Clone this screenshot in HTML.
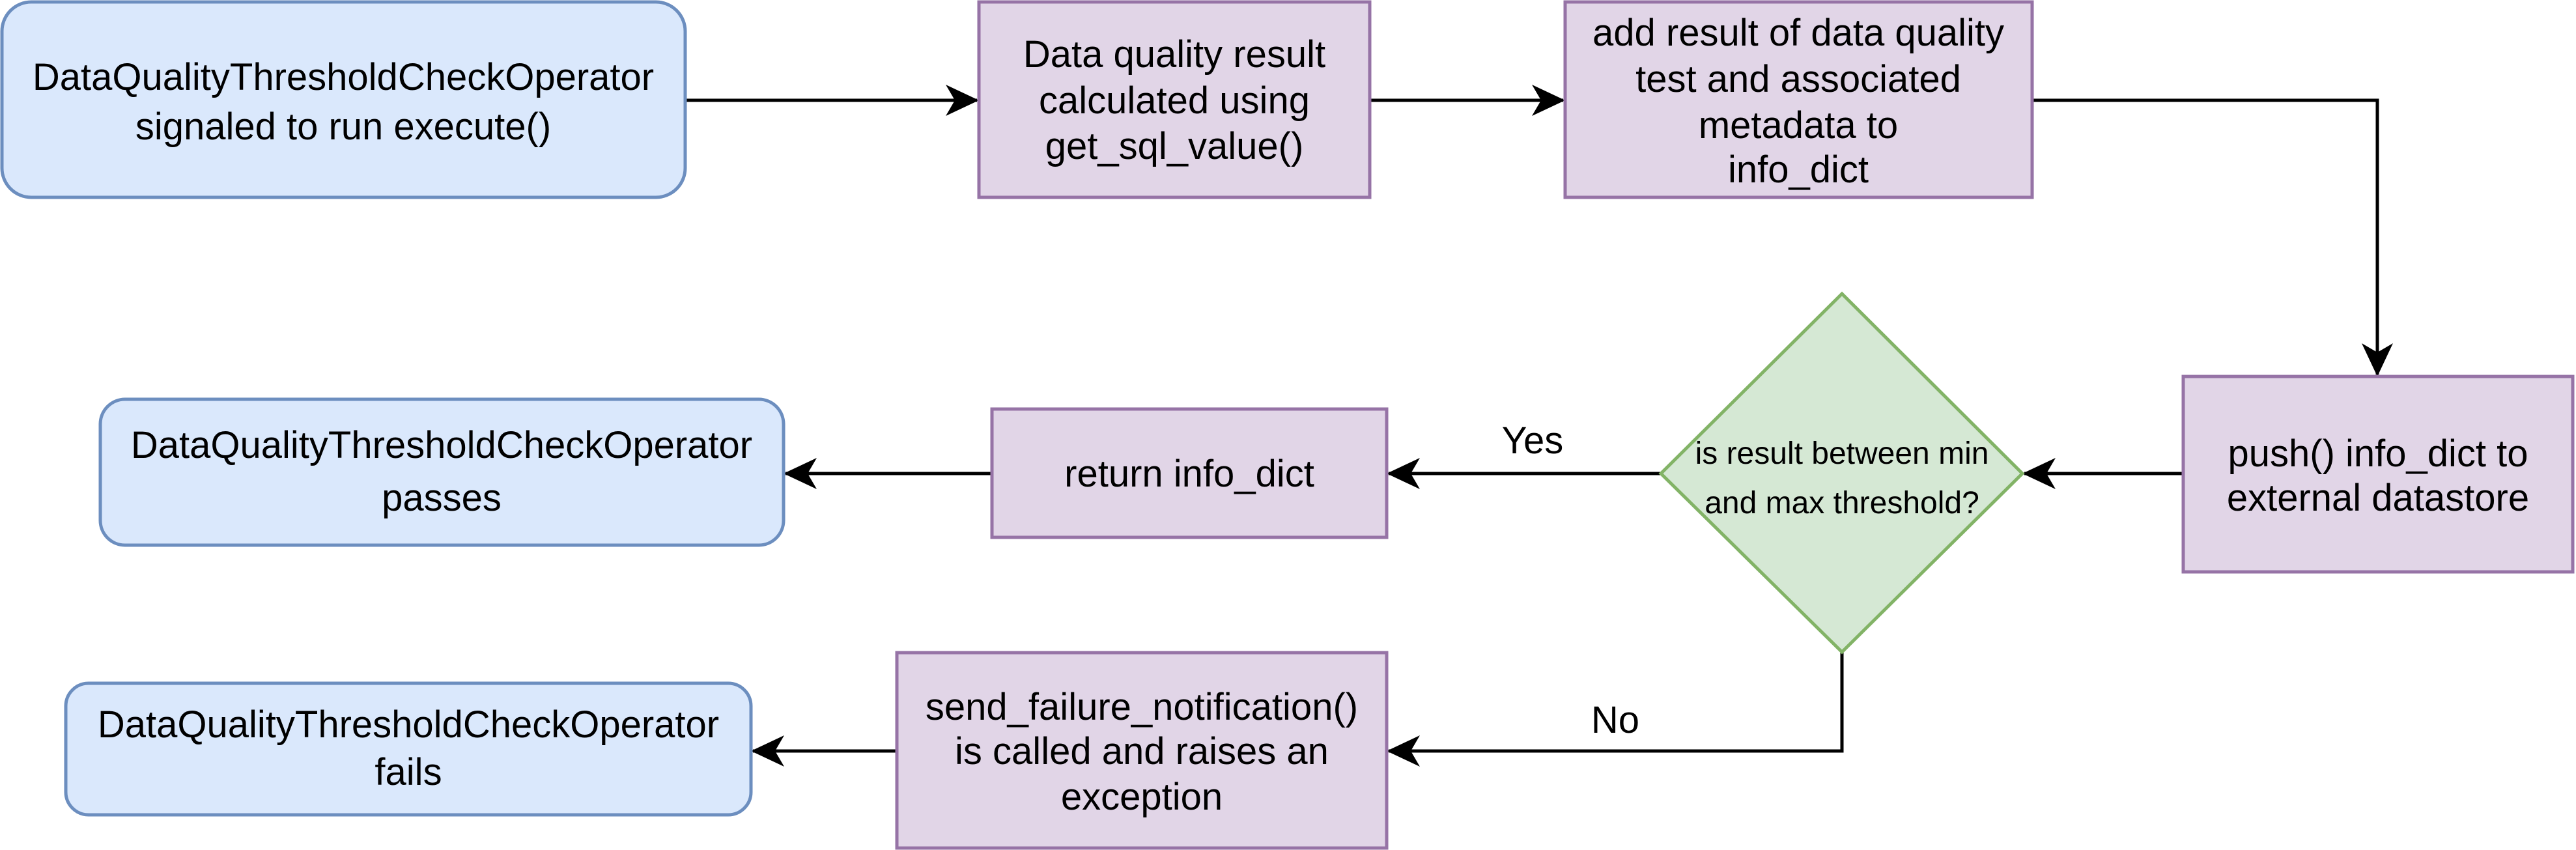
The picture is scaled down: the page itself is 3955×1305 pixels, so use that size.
<!DOCTYPE html>
<html><head><meta charset="utf-8"><style>
html,body{margin:0;padding:0;background:#fff;}
svg{display:block;}
text{font-family:"Liberation Sans",Arial,sans-serif;fill:#000;}
</style></head><body>
<svg width="3955" height="1305" viewBox="0 0 3955 1305" xmlns="http://www.w3.org/2000/svg">
<g stroke="#000" stroke-width="5" fill="none">
<path d="M1052,154 L1500,154"/>
<path d="M2103,154 L2400,154"/>
<path d="M3120,154 L3650,154 L3650,575"/>
<path d="M3352,727 L3108,727"/>
<path d="M2550,727 L2132,727"/>
<path d="M1523,727 L1206,727"/>
<path d="M2828,1001 L2828,1153 L2132,1153"/>
<path d="M1377,1153 L1156,1153"/>
</g>
<g fill="#000">
<path d="M1503,154 L1452,130 L1466,154 L1452,178 Z"/>
<path d="M2403,154 L2352,130 L2366,154 L2352,178 Z"/>
<path d="M3650,578 L3626,527 L3650,541 L3674,527 Z"/>
<path d="M3105,727 L3156,703 L3142,727 L3156,751 Z"/>
<path d="M2129,727 L2180,703 L2166,727 L2180,751 Z"/>
<path d="M1203,727 L1254,703 L1240,727 L1254,751 Z"/>
<path d="M2129,1153 L2180,1129 L2166,1153 L2180,1177 Z"/>
<path d="M1153,1153 L1204,1129 L1190,1153 L1204,1177 Z"/>
</g>
<g stroke-width="5">
<rect x="3" y="3" width="1049" height="300" rx="45" fill="#dae8fc" stroke="#6c8ebf"/>
<rect x="1503" y="3" width="600" height="300" fill="#e1d5e7" stroke="#9673a6"/>
<rect x="2403" y="3" width="717" height="300" fill="#e1d5e7" stroke="#9673a6"/>
<rect x="3352" y="578" width="598" height="300" fill="#e1d5e7" stroke="#9673a6"/>
<path d="M2828,451 L3105,727 L2828,1001 L2550,727 Z" fill="#d5e8d4" stroke="#82b366"/>
<rect x="1523" y="628" width="606" height="197" fill="#e1d5e7" stroke="#9673a6"/>
<rect x="154" y="613" width="1049" height="224" rx="38" fill="#dae8fc" stroke="#6c8ebf"/>
<rect x="1377" y="1002" width="752" height="300" fill="#e1d5e7" stroke="#9673a6"/>
<rect x="101" y="1049" width="1052" height="202" rx="35" fill="#dae8fc" stroke="#6c8ebf"/>
</g>
<g font-size="58" text-anchor="middle">
<text x="527" y="138">DataQualityThresholdCheckOperator</text>
<text x="527" y="214">signaled to run execute()</text>
<text x="1803" y="103">Data quality result</text>
<text x="1803" y="174">calculated using</text>
<text x="1803" y="244">get_sql_value()</text>
<text x="2761" y="70">add result of data quality</text>
<text x="2761" y="141">test and associated</text>
<text x="2761" y="212">metadata to</text>
<text x="2761" y="280">info_dict</text>
<text x="3651" y="716">push() info_dict to</text>
<text x="3651" y="784">external datastore</text>
<text x="1826" y="747">return info_dict</text>
<text x="678" y="703">DataQualityThresholdCheckOperator</text>
<text x="678" y="784">passes</text>
<text x="1753" y="1105">send_failure_notification()</text>
<text x="1753" y="1173">is called and raises an</text>
<text x="1753" y="1243">exception</text>
<text x="627" y="1132">DataQualityThresholdCheckOperator</text>
<text x="627" y="1205">fails</text>
<text x="2353" y="696">Yes</text>
<text x="2480" y="1125">No</text>
</g>
<g font-size="48" text-anchor="middle">
<text x="2828" y="712">is result between min</text>
<text x="2828" y="788">and max threshold?</text>
</g>
</svg>
</body></html>
